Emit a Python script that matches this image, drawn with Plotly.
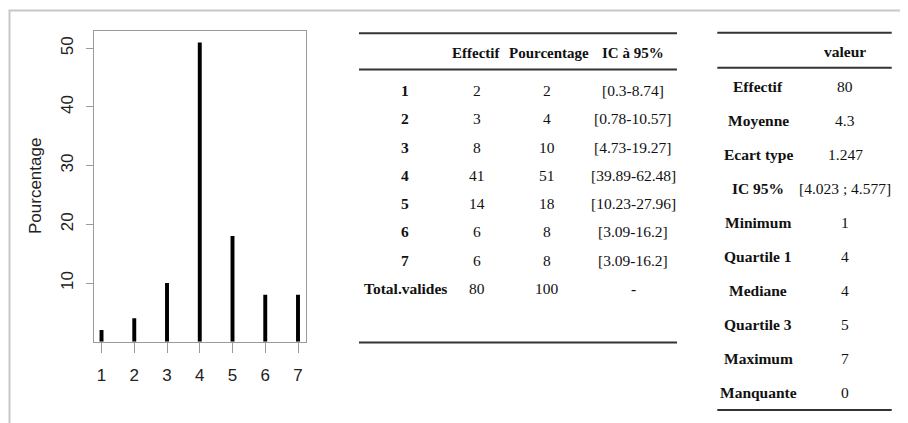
import plotly.graph_objects as go

# ---- data ----
categories = [1, 2, 3, 4, 5, 6, 7]
pourcentage = [2, 4, 10, 51, 18, 8, 8]
y_ticks = [10, 20, 30, 40, 50]

t1_header = ["", "Effectif", "Pourcentage", "IC à 95%"]
t1_rows = ["1", "2", "3", "4", "5", "6", "7", "Total.valides"]
t1_effectif = ["2", "3", "8", "41", "14", "6", "6", "80"]
t1_pourcent = ["2", "4", "10", "51", "18", "8", "8", "100"]
t1_ic = ["[0.3-8.74]", "[0.78-10.57]", "[4.73-19.27]", "[39.89-62.48]",
         "[10.23-27.96]", "[3.09-16.2]", "[3.09-16.2]", "-"]

t2_header = ["", "valeur"]
t2_labels = ["Effectif", "Moyenne", "Ecart type", "IC 95%", "Minimum",
             "Quartile 1", "Mediane", "Quartile 3", "Maximum", "Manquante"]
t2_values = ["80", "4.3", "1.247", "[4.023 ; 4.577]", "1", "4", "4", "5", "7", "0"]

W, H = 908, 423
OFF = 8  # page body margin in the browser
def px(x):
    return (x - OFF) / W
def py(y):
    return 1 - (y - OFF) / H

fig = go.Figure()
fig.add_trace(go.Bar(x=categories, y=pourcentage, width=0.12,
                     marker=dict(color="black", line=dict(width=0)),
                     hoverinfo="x+y"))

SANS = "Liberation Sans, Arial, sans-serif"
SERIF = "Liberation Serif, Times New Roman, serif"
FS = 15.5

fig.update_layout(
    width=W, height=H,
    margin=dict(l=0, r=0, t=0, b=0),
    paper_bgcolor="white", plot_bgcolor="white",
    showlegend=False,
    xaxis=dict(domain=[px(93.5), px(305.7)], range=[0.755, 7.235],
               tickvals=categories, ticktext=[str(c) for c in categories],
               showgrid=False, zeroline=False,
               showline=True, mirror=True, linecolor="#9a9a9a", linewidth=1,
               ticks="outside", ticklen=10, tickcolor="#9a9a9a", tickwidth=1,
               tickfont=dict(family=SANS, size=17, color="#222"),
               ticklabelstandoff=8),
    yaxis=dict(domain=[py(341.7), py(30.7)], range=[0, 53],
               tickvals=y_ticks, showgrid=False, zeroline=False,
               showline=True, mirror=True, linecolor="#9a9a9a", linewidth=1,
               ticks="outside", ticklen=7, tickcolor="#9a9a9a", tickwidth=1,
               tickangle=-90,
               tickfont=dict(family=SANS, size=17, color="#222"),
               ticklabelstandoff=6),
)

annotations = []
shapes = []

# y-axis title
annotations.append(dict(text="Pourcentage", x=px(36), y=py(186), xref="paper", yref="paper",
                        textangle=-90, showarrow=False,
                        font=dict(family=SANS, size=17, color="#222"),
                        xanchor="center", yanchor="middle"))

# outer frame
shapes.append(dict(type="rect", xref="paper", yref="paper",
                   x0=px(9.5), x1=px(940), y0=py(10.5), y1=py(450),
                   line=dict(color="#c8c8c8", width=2)))

# ---- table 1 ----
t1_cols_x = [405, 477, 547, 633]
t1_head_x = [405, 475.5, 548.5, 633]
t1_header_y = 53.3
t1_row_y0, t1_row_dy = 90.7, 28.23
RULE = "#333"
for y in [33.3, 69.5, 342.5]:
    shapes.append(dict(type="line", xref="paper", yref="paper",
                       x0=px(359), x1=px(677), y0=py(y), y1=py(y),
                       line=dict(color=RULE, width=2)))
for j, h in enumerate(t1_header):
    if h:
        annotations.append(dict(text="<b>%s</b>" % h, x=px(t1_head_x[j]), y=py(t1_header_y),
                                xref="paper", yref="paper", showarrow=False,
                                xanchor="center", yanchor="middle",
                                font=dict(family=SERIF, size=15, color="#111")))
for i in range(len(t1_rows)):
    yy = py(t1_row_y0 + i * t1_row_dy)
    cells = [("<b>%s</b>" % t1_rows[i]), t1_effectif[i], t1_pourcent[i],
             ("<b>-</b>" if t1_ic[i] == "-" else t1_ic[i])]
    for j, c in enumerate(cells):
        annotations.append(dict(text=c, x=px(t1_cols_x[j]), y=yy,
                                xref="paper", yref="paper", showarrow=False,
                                xanchor="center", yanchor="middle",
                                font=dict(family=SERIF, size=FS, color="#111")))

# ---- table 2 ----
t2_cols_x = [758, 845]
t2_header_y = 51.7
t2_row_y0, t2_row_dy = 86.7, 34.0
for y in [32.7, 67.7, 410]:
    shapes.append(dict(type="line", xref="paper", yref="paper",
                       x0=px(717.3), x1=px(891.7), y0=py(y), y1=py(y),
                       line=dict(color=RULE, width=2)))
annotations.append(dict(text="<b>%s</b>" % t2_header[1], x=px(t2_cols_x[1]), y=py(t2_header_y),
                        xref="paper", yref="paper", showarrow=False,
                        xanchor="center", yanchor="middle",
                        font=dict(family=SERIF, size=FS, color="#111")))
for i in range(len(t2_labels)):
    yy = py(t2_row_y0 + i * t2_row_dy)
    annotations.append(dict(text="<b>%s</b>" % t2_labels[i], x=px(t2_cols_x[0]), y=yy,
                            xref="paper", yref="paper", showarrow=False,
                            xanchor="center", yanchor="middle",
                            font=dict(family=SERIF, size=FS, color="#111")))
    annotations.append(dict(text=t2_values[i], x=px(t2_cols_x[1]), y=yy,
                            xref="paper", yref="paper", showarrow=False,
                            xanchor="center", yanchor="middle",
                            font=dict(family=SERIF, size=FS, color="#111")))

fig.update_layout(annotations=annotations, shapes=shapes)
fig.write_html("out.html")
